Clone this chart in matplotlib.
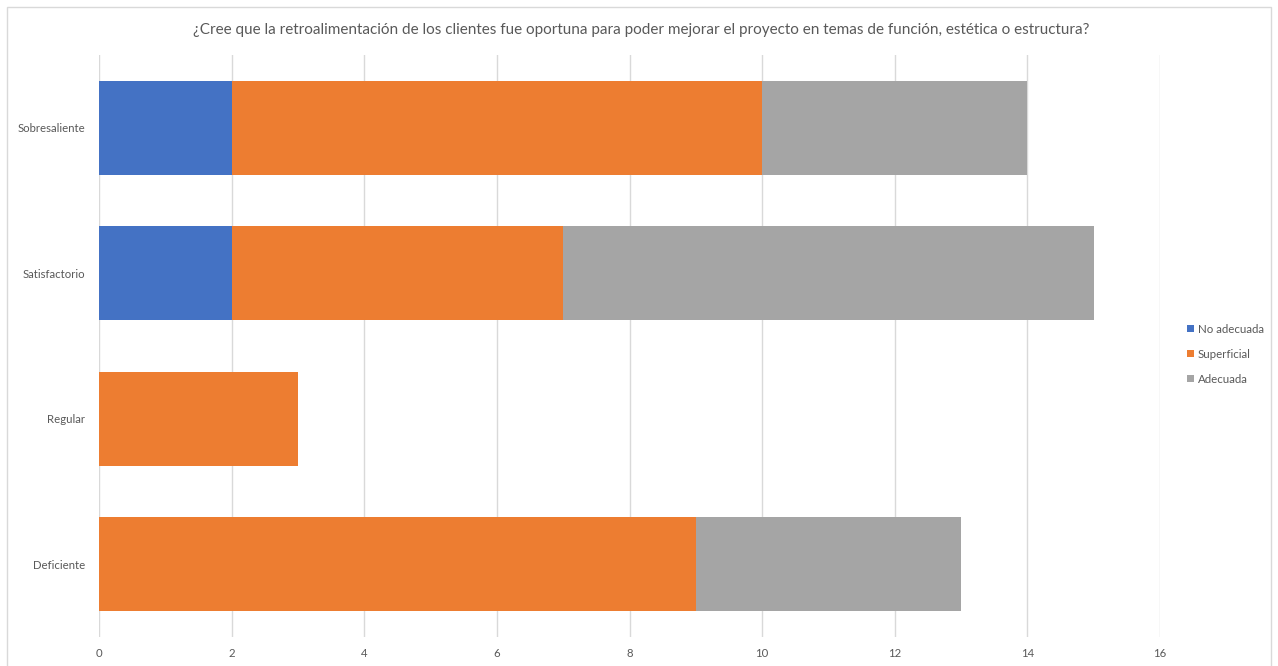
import matplotlib.pyplot as plt
from matplotlib.patches import Rectangle
import numpy as np

# Data
categories = ['Deficiente', 'Regular', 'Satisfactorio', 'Sobresaliente']
no_adecuada = [0, 0, 2, 2]
superficial = [9, 3, 5, 8]
adecuada = [4, 0, 8, 4]
series_names = ['No adecuada', 'Superficial', 'Adecuada']
colors = ['#4472C4', '#ED7D31', '#A5A5A5']
title = '¿Cree que la retroalimentación de los clientes fue oportuna para poder mejorar el proyecto en temas de función, estética o estructura?'

plt.rcParams['font.family'] = ['Lato', 'DejaVu Sans']
text_color = '#595959'

fig = plt.figure(figsize=(12.78, 6.66), dpi=100)
ax = fig.add_axes([0.0775, 0.0435, 0.8302, 0.8739])

y = np.arange(len(categories))
h = 0.645
left = np.zeros(len(categories))
for vals, name, c in zip([no_adecuada, superficial, adecuada], series_names, colors):
    vals = np.array(vals, dtype=float)
    ax.barh(y, vals, left=left, height=h, color=c, label=name, zorder=3)
    left += vals

ax.set_xlim(0, 16)
ax.set_ylim(-0.5, 3.5)
ax.set_xticks(range(0, 17, 2))
ax.set_yticks(y)
ax.set_yticklabels(categories)
ax.tick_params(axis='both', length=0, colors=text_color, labelsize=8.2)
ax.tick_params(axis='x', pad=8)
ax.tick_params(axis='y', pad=10)
ax.grid(axis='x', color='#D9D9D9', linewidth=1, zorder=0)
for s in ax.spines.values():
    s.set_visible(False)

fig.text(0.5015, 1 - 30 / 666, title, ha='center', va='center', fontsize=11, color=text_color)

leg = ax.legend(loc='center left', bbox_to_anchor=(1.016, 0.486), frameon=False,
                fontsize=8.3, handlelength=0.6, handleheight=0.6, handletextpad=0.3,
                labelspacing=1.2, labelcolor=text_color)

fig.patches.append(Rectangle((7 / 1278, -0.01), 1264 / 1278, 1 - 7 / 666 + 0.01,
                             transform=fig.transFigure, fill=False,
                             edgecolor='#D9D9D9', linewidth=1))

fig.savefig('out.png', dpi=100, facecolor='white')
